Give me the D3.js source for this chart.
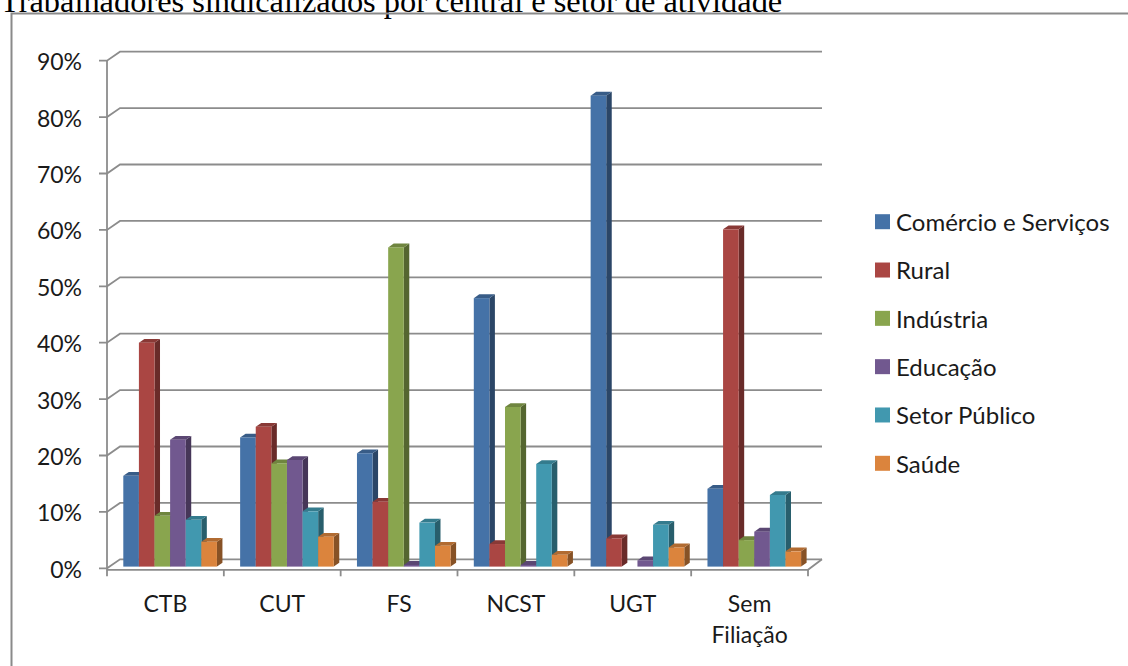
<!DOCTYPE html>
<html>
<head>
<meta charset="utf-8">
<script src="https://cdn.jsdelivr.net/npm/d3@7"></script>
<style>
  html, body { margin: 0; padding: 0; background: #ffffff; }
  svg { display: block; }
  .lbl { font-family: Lato, "Open Sans", sans-serif; fill: #1a1a1a; }
</style>
</head>
<body>
<svg id="chart" width="1128" height="666"></svg>
<script>
// Centrais sindicais (categories on the x axis)
const categories = ["CTB", "CUT", "FS", "NCST", "UGT", "Sem Filiação"];

// Setores de atividade (series) and their colours
const seriesNames = ["Comércio e Serviços", "Rural", "Indústria", "Educação", "Setor Público", "Saúde"];
const seriesColors = ["#4572A7", "#AA4643", "#89A54E", "#71588F", "#4198AF", "#DB843D"];

// Share of unionised workers (%) per sector, one value per central
const comercioServicos = [16.1, 22.9, 20.1, 47.6, 83.5, 13.8];
const rural            = [39.7, 24.8, 11.5, 4.0, 5.0, 59.8];
const industria        = [9.0, 18.3, 56.6, 28.3, 0, 4.7];
const educacao         = [22.5, 18.9, 0.3, 0.3, 1.1, 6.2];
const setorPublico     = [8.3, 9.8, 7.8, 18.2, 7.4, 12.7];
const saude            = [4.4, 5.3, 3.7, 2.1, 3.4, 2.7];

const seriesValues = [comercioServicos, rural, industria, educacao, setorPublico, saude];

// Value axis ticks
const yTicks = [0, 10, 20, 30, 40, 50, 60, 70, 80, 90];
const yTickLabels = ["0%", "10%", "20%", "30%", "40%", "50%", "60%", "70%", "80%", "90%"];

const svg = d3.select("#chart");

// Title (Times, partly above the frame)
svg.append("text")
  .attr("x", 0).attr("y", 12)
  .attr("font-family", "'Liberation Serif', 'Times New Roman', serif")
  .attr("font-size", 32.4)
  .attr("fill", "#000")
  .text("Trabalhadores sindicalizados por central e setor de atividade");

// Chart frame
svg.append("path")
  .attr("d", "M11.5,680 L11.5,13.5 L1140,13.5")
  .attr("fill", "none")
  .attr("stroke", "#8a8a8a")
  .attr("stroke-width", 2);

// Plot geometry: front axis plane and wall depth offset
const left = 107, right = 808;
const wallDX = 13, wallDY = -9;

const x0 = d3.scaleBand().domain(categories).range([left, right]).padding(0);
const groupPad = 11.6;
const x1 = d3.scaleBand().domain(seriesNames).range([groupPad, x0.bandwidth() - groupPad]).padding(0);
const y = d3.scaleLinear().domain([0, 90]).range([568.3, 60.7]);

const gridColor = "#8c8c8c";
const g = svg.append("g");

// Back-wall gridlines with diagonal connectors and front tick marks
yTicks.forEach((t, i) => {
  const yy = y(t);
  g.append("path")
    .attr("d", `M${left - 8},${yy} L${left},${yy} L${left + wallDX},${yy + wallDY} L${right + wallDX + 1},${yy + wallDY}`)
    .attr("fill", "none")
    .attr("stroke", gridColor)
    .attr("stroke-width", 1.8);
  g.append("text")
    .attr("class", "lbl")
    .attr("x", 82).attr("y", yy + 1.5)
    .attr("dy", "0.35em")
    .attr("text-anchor", "end")
    .attr("font-size", 23)
    .text(yTickLabels[i]);
});

// Vertical value axis
g.append("line")
  .attr("x1", left).attr("x2", left)
  .attr("y1", y(90)).attr("y2", y(0) + 2)
  .attr("stroke", gridColor).attr("stroke-width", 1.8);

// Floor outline: front edge, right diagonal and category ticks
const y0 = y(0);
g.append("path")
  .attr("d", `M${left},${y0 + 1.5} L${right},${y0 + 1.5} L${right + wallDX + 1},${y0 + wallDY}`)
  .attr("fill", "none")
  .attr("stroke", gridColor).attr("stroke-width", 1.8);

const catTicks = categories.map(c => x0(c)).concat([right]);
catTicks.forEach(tx => {
  g.append("line")
    .attr("x1", tx).attr("x2", tx)
    .attr("y1", y0 + 1.5).attr("y2", y0 + 8)
    .attr("stroke", gridColor).attr("stroke-width", 1.8);
});

// 3D columns: front face offset into the floor plus depth of each column
const faceDX = 4.7, faceDY = -1.7;
const depthDX = 5.5, depthDY = -3.8;

const bars = g.append("g");
categories.forEach((cat, ci) => {
  seriesNames.forEach((s, si) => {
    const v = seriesValues[si][ci];
    if (!(v > 0)) return;
    const col = d3.color(seriesColors[si]);
    const bx = x0(cat) + x1(s) + faceDX;
    const bw = x1.bandwidth();
    const yt = y(v) + faceDY;
    const yb = y(0) + faceDY;
    const bg = bars.append("g");
    // side face
    bg.append("path")
      .attr("d", `M${bx + bw},${yt} L${bx + bw + depthDX},${yt + depthDY} L${bx + bw + depthDX},${yb + depthDY} L${bx + bw},${yb} Z`)
      .attr("fill", col.darker(1.35).formatHex());
    // top face
    bg.append("path")
      .attr("d", `M${bx},${yt} L${bx + depthDX},${yt + depthDY} L${bx + bw + depthDX},${yt + depthDY} L${bx + bw},${yt} Z`)
      .attr("fill", col.darker(0.6).formatHex());
    // front face
    bg.append("rect")
      .attr("x", bx).attr("y", yt)
      .attr("width", bw).attr("height", yb - yt)
      .attr("fill", col.formatHex());
  });
});

// Category labels (wrapped at spaces)
categories.forEach(cat => {
  const cx = x0(cat) + x0.bandwidth() / 2;
  const words = cat.split(" ");
  const t = g.append("text")
    .attr("class", "lbl")
    .attr("text-anchor", "middle")
    .attr("font-size", 23);
  words.forEach((w, wi) => {
    t.append("tspan")
      .attr("x", cx)
      .attr("y", 604 + wi * 31)
      .attr("dy", "0.35em")
      .text(w);
  });
});

// Legend
const legendY = d3.scalePoint().domain(seriesNames).range([221.7, 463.3]);
const legend = svg.append("g");
seriesNames.forEach((s, si) => {
  const ly = legendY(s);
  legend.append("rect")
    .attr("x", 875).attr("y", ly - 7.5)
    .attr("width", 15).attr("height", 15)
    .attr("fill", seriesColors[si]);
  legend.append("text")
    .attr("class", "lbl")
    .attr("x", 896).attr("y", ly + 1)
    .attr("dy", "0.35em")
    .attr("font-size", 24)
    .text(s);
});
</script>
</body>
</html>
